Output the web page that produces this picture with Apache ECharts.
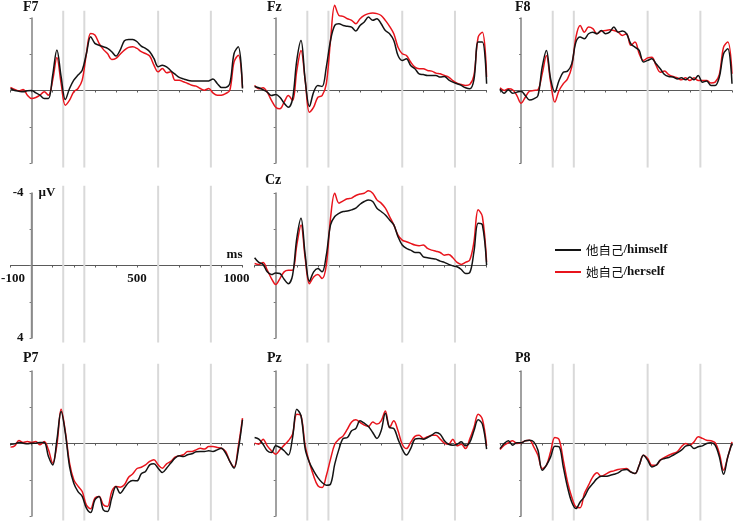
<!DOCTYPE html>
<html>
<head>
<meta charset="utf-8">
<script src="https://cdn.jsdelivr.net/npm/echarts@6/dist/echarts.min.js"></script>
<style>html,body{margin:0;padding:0;background:#fff}#c{width:737px;height:526px}</style>
</head>
<body>
<div id="c"></div>
<script>
// time points (ms)
const times = [-100,-80,-60,-40,-20,0,20,40,60,80,100,120,140,160,180,200,220,240,260,280,300,320,340,360,380,400,420,440,460,480,500,520,540,560,580,600,620,640,660,680,700,720,740,760,780,800,820,840,860,880,900,920,940,960,980,1000];
// grey marker lines (ms)
const markerTimes = [150, 250, 600, 850];
// scale tick labels
const xTickLabels = [-100, 500, 1000];
const yTickLabels = [-4, 4];
const seriesNames = ['他自己/himself', '她自己/herself'];

// amplitudes in µV (negative plotted up)
const F7_him = [-0.11,0,0.04,0.07,0.02,0,0.13,0.26,0.44,0.44,-0.85,-2.23,-0.76,0.50,-0.11,-0.57,-0.85,-1.12,-2.04,-2.97,-2.6,-2.5,-2.41,-2.32,-2.14,-1.90,-2.23,-2.74,-2.82,-2.82,-2.69,-2.45,-2.32,-2.14,-1.77,-1.31,-1.40,-1.31,-1.09,-0.90,-0.72,-0.64,-0.57,-0.53,-0.52,-0.52,-0.52,-0.53,-0.63,-0.39,-0.17,-0.17,-0.39,-2.04,-2.41,-0.11];
const F7_her = [-0.17,-0.06,0.02,-0.06,0.26,0.44,0.39,0.26,0.07,0.26,-0.57,-1.82,-0.39,0.81,0.53,0.07,-0.11,-0.57,-2.04,-3.15,-3.06,-2.6,-2.27,-2.04,-1.71,-1.77,-2.0,-2.23,-2.38,-2.41,-2.32,-2.14,-2.04,-1.90,-1.40,-1.03,-1.22,-0.98,-1.03,-0.57,-0.57,-0.48,-0.39,-0.29,-0.24,-0.11,-0.02,-0.11,0.13,0.26,0.26,0.17,-0.02,-1.58,-1.95,-0.17];
const Fz_him = [-0.22,-0.15,-0.04,0.09,0.28,0.22,0.37,0.70,0.92,0.46,-1.66,-2.76,-0.55,0.88,0.09,-0.28,-0.22,-1.29,-2.76,-3.59,-3.68,-3.59,-3.54,-3.50,-3.28,-3.59,-3.78,-4.05,-3.87,-3.96,-3.68,-3.31,-3.13,-2.76,-1.93,-1.66,-1.75,-1.38,-1.20,-0.92,-0.88,-0.83,-0.83,-0.83,-0.74,-0.77,-0.59,-0.46,-0.37,-0.28,-0.15,-0.09,-0.60,-2.67,-2.67,-0.37];
const Fz_her = [-0.28,-0.09,-0.15,0.09,0.55,0.92,1.01,0.64,0.28,0.55,-1.10,-2.21,-0.55,1.20,0.92,0.37,0.28,-0.37,-2.76,-4.70,-4.14,-4.09,-3.96,-3.87,-3.68,-3.96,-4.14,-4.24,-4.27,-4.24,-4.14,-3.87,-3.54,-3.13,-2.39,-2.03,-1.93,-1.57,-1.29,-1.20,-1.20,-1.10,-1.07,-0.96,-0.92,-0.83,-0.74,-0.55,-0.41,-0.33,-0.28,-0.33,-0.83,-2.95,-3.22,-0.74];
const F8_him = [-0.09,0.15,-0.04,0.15,0.09,0.04,0.28,0.52,0.46,0.28,-1.29,-2.21,-0.64,0.09,-0.55,-1.01,-1.07,-1.47,-2.67,-2.95,-2.85,-3.13,-3.22,-3.13,-3.31,-3.13,-3.22,-3.50,-3.22,-3.28,-3.13,-2.58,-2.39,-2.21,-1.57,-1.66,-1.75,-1.47,-1.20,-0.88,-0.77,-0.74,-0.64,-0.70,-0.59,-0.74,-0.59,-0.83,-0.46,-0.52,-0.28,-0.28,-0.74,-2.03,-2.30,-0.37];
const F8_her = [-0.15,0,-0.09,-0.04,0.28,0.70,0.37,0.04,0,-0.04,-0.92,-1.93,-0.46,0.64,0,-0.37,-0.64,-1.29,-2.95,-3.59,-3.22,-3.50,-3.41,-3.13,-3.28,-3.31,-3.35,-3.31,-3.22,-3.04,-3.13,-2.49,-2.67,-2.03,-1.66,-1.80,-1.84,-1.38,-1.01,-1.07,-0.88,-0.77,-0.70,-0.59,-0.70,-0.55,-0.70,-0.55,-0.55,-0.55,-0.41,-0.46,-0.88,-2.39,-2.67,-0.92];
const Cz_him = [-0.43,-0.17,-0.06,0.35,0.50,0.41,0.44,0.76,1.0,0.54,-1.50,-2.61,-0.57,0.87,0.35,0.17,0.35,-0.57,-2.24,-2.70,-2.88,-2.98,-3.01,-3.07,-3.16,-3.38,-3.53,-3.62,-3.53,-3.16,-2.98,-2.79,-2.51,-2.24,-1.59,-1.13,-0.94,-0.85,-0.72,-0.72,-0.48,-0.43,-0.39,-0.35,-0.24,-0.17,-0.06,0.02,0.07,0.22,0.44,0.39,-0.76,-2.33,-2.24,-0.02];
const Cz_her = [-0.11,-0.06,-0.17,0.26,0.72,1.05,0.72,0.35,0.26,0.26,-1.13,-2.24,-0.39,1.0,0.63,0.50,0.72,-0.02,-2.61,-3.99,-3.44,-3.57,-3.68,-3.72,-3.86,-3.94,-3.99,-4.12,-3.99,-3.62,-3.44,-3.16,-2.70,-2.24,-1.68,-1.40,-1.31,-1.22,-1.13,-1.09,-1.13,-0.94,-0.85,-0.79,-0.72,-0.57,-0.61,-0.43,-0.17,-0.06,-0.17,-0.30,-1.31,-3.07,-2.70,-0.20];
const P7_him = [0.04,0.02,-0.06,-0.02,0.02,-0.02,-0.02,-0.06,-0.06,0.72,1.18,-0.20,-1.76,-0.57,1.27,2.19,2.65,2.92,3.57,3.81,3.11,2.92,3.66,3.75,3.01,2.37,2.74,2.46,2.15,2.04,2.06,1.67,1.54,1.18,1.12,1.36,1.60,1.36,1.08,0.81,0.68,0.72,0.62,0.57,0.46,0.44,0.44,0.40,0.44,0.35,0.26,0.53,0.99,1.36,0.35,-1.31];
const P7_her = [0.20,0.13,-0.17,-0.06,-0.11,-0.06,-0.11,0.07,-0.11,0.35,1.08,0.07,-1.89,-0.66,1.08,2.00,2.35,2.65,3.40,3.60,3.01,2.92,3.38,3.47,2.65,2.37,2.41,2.28,1.86,1.67,1.38,1.31,1.18,0.99,0.90,1.18,1.36,1.12,0.99,0.75,0.68,0.62,0.44,0.44,0.35,0.26,0.31,0.17,0.17,0.22,0.26,0.44,0.99,1.31,0.17,-1.40];
const Pz_him = [-0.33,-0.24,0.04,0.40,0.50,0.13,0.22,0.40,0.64,-0.33,-1.89,-1.53,0.31,1.05,1.51,1.88,2.15,2.30,2.24,1.14,0.31,-0.28,-0.33,-0.70,-0.83,-1.25,-1.12,-0.94,-0.61,-0.28,-0.70,-1.67,-0.88,-0.83,-0.24,0.31,0.64,0.28,-0.24,-0.28,-0.24,-0.33,-0.46,-0.61,-0.51,-0.15,0.04,0.09,0.04,-0.09,0.13,-0.06,-0.70,-1.31,-1.07,0.31];
const Pz_her = [-0.02,0.04,-0.24,0.13,0.40,0.59,0.35,0.09,-0.15,-0.51,-1.62,-1.53,0.13,1.05,1.79,2.33,2.43,1.78,0.86,0.04,-0.24,-0.42,-0.79,-1.19,-1.31,-1.16,-1.01,-0.94,-1.19,-1.07,-1.25,-1.80,-0.88,-1.25,-0.70,0.04,0.28,-0.06,-0.39,-0.46,-0.28,-0.37,-0.46,-0.46,-0.24,-0.02,0.04,-0.24,0.13,0.04,0.28,-0.24,-0.88,-1.62,-1.34,0.13];
const P8_him = [0.28,0.0,-0.15,0.09,-0.04,-0.04,-0.15,-0.18,-0.09,0.37,1.47,1.20,0.74,0.15,0.18,1.29,2.40,3.23,3.59,3.23,2.95,2.49,2.21,1.94,1.81,1.81,1.77,1.70,1.62,1.47,1.44,1.57,1.66,1.20,0.65,0.92,1.29,1.20,0.92,0.83,0.77,0.65,0.52,0.37,0.15,0.09,0.28,0.18,0.13,0,-0.04,0.09,0.74,1.70,0.74,0];
const P8_her = [0.33,0.09,-0.04,-0.15,0,-0.04,-0.15,-0.18,0.18,0.65,1.38,1.20,0.46,-0.33,-0.22,0.92,2.12,2.95,3.50,3.54,2.76,2.30,1.84,1.62,1.81,1.70,1.57,1.51,1.44,1.40,1.38,1.57,1.66,1.20,0.65,0.83,1.20,1.20,0.92,0.77,0.65,0.55,0.46,0.18,0,0.09,-0.09,-0.37,-0.28,-0.18,-0.15,-0.04,0.55,1.47,0.74,-0.09];

const panels = [
  {title:'F7', him:F7_him, her:F7_her, col:0, row:0},
  {title:'Fz', him:Fz_him, her:Fz_her, col:1, row:0},
  {title:'F8', him:F8_him, her:F8_her, col:2, row:0},
  {title:null, him:null, her:null, col:0, row:1, scale:true},
  {title:'Cz', him:Cz_him, her:Cz_her, col:1, row:1},
  {title:'P7', him:P7_him, her:P7_her, col:0, row:2},
  {title:'Pz', him:Pz_him, her:Pz_her, col:1, row:2},
  {title:'P8', him:P8_him, her:P8_her, col:2, row:2}
];

const colLeft = [10.5, 254.6, 500];
const rowTop = [18, 193, 371];
const gridW = 232, gridH = 145;
const titlePos = {F7:[23,0], Fz:[267,0], F8:[515,0], Cz:[265,173], P7:[23,351], Pz:[267,351], P8:[515,351]};
const serif = "'Liberation Serif','Times New Roman','Noto Sans CJK SC',serif";
const cjk = "'Noto Sans CJK SC',sans-serif";
const BLACK = '#141414', RED = '#e8141c';
const AXIS_GREY = '#8a8a8a';
const labelFont = {fontFamily:serif, fontWeight:'bold', fontSize:13, color:'#111'};

const grids = [], xAxes = [], yAxes = [], series = [], titles = [];
const extraX = [], extraY = [];
panels.forEach((p, i) => {
  grids.push({left: colLeft[p.col], top: rowTop[p.row], width: gridW, height: gridH,
    containLabel:false, outerBoundsMode:'none'});
  // main axes: lines and ticks crossing at (0 ms, 0 µV)
  xAxes.push({
    type:'value', gridIndex:i, min:-100, max:1000, interval:100,
    position:'bottom',
    axisLine:{show:true, onZero:true, lineStyle:{color:'#5a5a5a', width:1}},
    axisTick:{show:true, length:2, lineStyle:{color:'#5a5a5a'}},
    splitLine:{show:false},
    axisLabel:{show:false}
  });
  yAxes.push({
    type:'value', gridIndex:i, inverse:true, min:-4, max:4, interval:2,
    position:'left',
    axisLine:{show:true, onZero:true, lineStyle:{color:AXIS_GREY, width:1.6}},
    axisTick:{show:true, length:2, lineStyle:{color:'#777'}},
    splitLine:{show:false},
    axisLabel:{show:false}
  });
  if (p.scale) {
    // label-only axes for the scale panel, shifted onto the zero lines
    extraX.push({
      type:'value', gridIndex:i, min:-100, max:1000, interval:100,
      position:'bottom', offset: -gridH / 2,
      axisLine:{show:false, onZero:false}, axisTick:{show:false}, splitLine:{show:false},
      name:'ms', nameLocation:'end', nameGap:0,
      nameTextStyle:Object.assign({align:'right', verticalAlign:'bottom', padding:[0,0,4,0]}, labelFont),
      axisLabel:Object.assign({
        show:true, interval:0, showMinLabel:true, showMaxLabel:true, margin:7,
        formatter: v => {
          if (xTickLabels.indexOf(v) < 0) return '';
          if (v === xTickLabels[0]) return '{s|' + v + '}';
          if (v === xTickLabels[2]) return '{e|' + v + '}';
          return String(v);
        },
        rich:{
          s:Object.assign({padding:[0,0,0,5]}, labelFont),
          e:Object.assign({padding:[0,12,0,0]}, labelFont)
        }
      }, labelFont)
    });
    extraY.push({
      type:'value', gridIndex:i, inverse:true, min:-4, max:4, interval:2,
      position:'left', offset: -(100 / 1100) * gridW,
      axisLine:{show:false, onZero:false}, axisTick:{show:false}, splitLine:{show:false},
      name:'µV', nameLocation:'start', nameGap:0,
      nameTextStyle:Object.assign({align:'left', verticalAlign:'middle', padding:[0,0,0,7]}, labelFont),
      axisLabel:Object.assign({
        show:true, margin:8, showMinLabel:true, showMaxLabel:true,
        formatter: v => yTickLabels.indexOf(v) < 0 ? '' : String(v)
      }, labelFont)
    });
    // amplitude scale bar along 0 ms (from -4 to 4 µV)
    series.push({
      type:'line', xAxisIndex:i, yAxisIndex:i, z:2, silent:true, clip:false,
      symbol:'none', lineStyle:{color:AXIS_GREY, width:1.6}, itemStyle:{color:AXIS_GREY},
      data:[[0, yTickLabels[0]], [0, yTickLabels[1]]]
    });
  }
  markerTimes.forEach(t => {
    series.push({
      type:'line', xAxisIndex:i, yAxisIndex:i, z:1, silent:true, clip:false,
      symbol:'none', lineStyle:{color:'#d9d9d9', width:2}, itemStyle:{color:'#d9d9d9'},
      data:[[t,-4.4],[t,4.25]]
    });
  });
  if (p.him) {
    [[p.him, seriesNames[0], BLACK, 4], [p.her, seriesNames[1], RED, 3]].forEach(([vals, nm, col, z]) => {
      series.push({
        type:'line', name:nm, xAxisIndex:i, yAxisIndex:i, z:z, clip:false,
        symbol:'none', smooth:0.35, silent:true,
        lineStyle:{color:col, width:1.5}, itemStyle:{color:col},
        data: times.map((t, k) => [t, vals[k]])
      });
    });
  }
  if (p.title) {
    titles.push({text:p.title, left:titlePos[p.title][0], top:titlePos[p.title][1], padding:0,
      textStyle:{fontFamily:serif, fontWeight:'bold', fontSize:14, color:'#111'}});
  }
});

const chart = echarts.init(document.getElementById('c'), null, {renderer:'canvas'});
chart.setOption({
  animation:false,
  backgroundColor:'#fff',
  title: titles,
  legend: {
    data: seriesNames, orient:'vertical', left:555, top:243.5, itemGap:9, padding:0,
    icon:'rect', itemWidth:26, itemHeight:2,
    formatter: nm => {
      const k = nm.indexOf('/');
      return '{c|' + nm.slice(0, k) + '}{e|' + nm.slice(k) + '}';
    },
    textStyle:{
      fontFamily:serif, fontWeight:'bold', fontSize:13, color:'#111',
      rich:{
        c:{fontFamily:cjk, fontWeight:'normal', fontSize:12.5, color:'#111'},
        e:{fontFamily:serif, fontWeight:'bold', fontSize:13, color:'#111'}
      }
    }
  },
  grid: grids, xAxis: xAxes.concat(extraX), yAxis: yAxes.concat(extraY), series: series
});
</script>
</body>
</html>
